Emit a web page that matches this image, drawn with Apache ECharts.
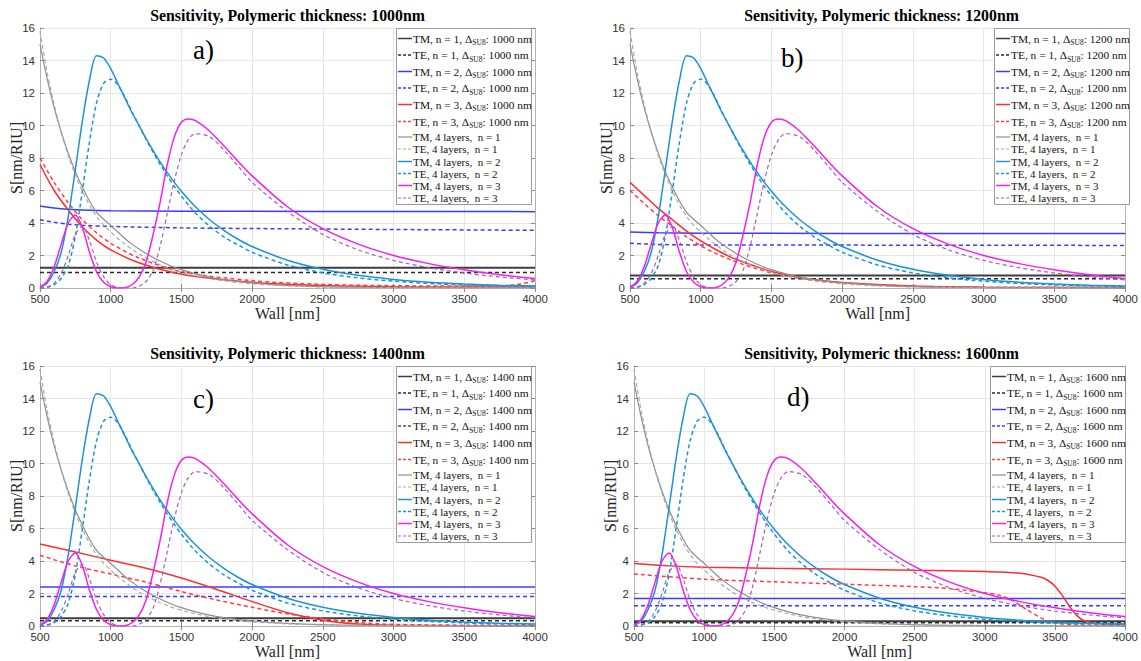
<!DOCTYPE html>
<html><head><meta charset="utf-8">
<script src="https://cdn.jsdelivr.net/npm/echarts@6/dist/echarts.min.js"></script>
<style>html,body{margin:0;padding:0;background:#fff}#c{width:1141px;height:661px}</style>
</head><body><div id="c"></div>
<script>
// ---------------- DATA ----------------
const panelTitles = ['Sensitivity, Polymeric thickness: 1000nm','Sensitivity, Polymeric thickness: 1200nm','Sensitivity, Polymeric thickness: 1400nm','Sensitivity, Polymeric thickness: 1600nm'];
const panelTags = ['a)','b)','c)','d)'];
const thickness = ['1000','1200','1400','1600'];
const legendMain = ['TM, n = 1, Δ','TE, n = 1, Δ','TM, n = 2, Δ','TE, n = 2, Δ','TM, n = 3, Δ','TE, n = 3, Δ',
  'TM, 4 layers,  n = 1','TE, 4 layers,  n = 1','TM, 4 layers,  n = 2','TE, 4 layers,  n = 2','TM, 4 layers,  n = 3','TE, 4 layers,  n = 3'];

// 4-layer reference curves (same in all panels)
const wall4L  = [500,550,600,650,700,750,800,850,900,950,1000,1050,1100,1150,1200,1250,1300,1350,1400,1450,1500,1550,1600,1700,1800,1900,2000,2250,2500,2750,3000,3250,3500,3750,4000];
const tm4L_n1 = [15.0,12.9,11.1,9.6,8.3,7.15,6.2,5.35,4.65,4.23,3.85,3.45,3.05,2.7,2.4,2.12,1.88,1.66,1.46,1.28,1.13,0.99,0.87,0.67,0.52,0.4,0.31,0.16,0.08,0.045,0.025,0.015,0.01,0.005,0.0];
const te4L_n1 = [15.8,13.3,11.3,9.6,8.15,6.95,5.95,5.1,4.4,3.85,3.45,3.05,2.7,2.38,2.1,1.85,1.63,1.43,1.26,1.1,0.97,0.85,0.75,0.57,0.44,0.34,0.26,0.13,0.065,0.035,0.02,0.01,0.01,0.0,0.0];
const tm4L_n2 = [0.05,0.3,1.0,2.2,4.4,7.3,10.3,12.8,14.3,14.15,13.5,12.6,11.7,10.8,10.0,9.2,8.45,7.75,7.1,6.5,5.95,5.45,5.0,4.2,3.55,3.0,2.55,1.71,1.15,0.78,0.53,0.36,0.25,0.17,0.12];
const te4L_n2 = [0.0,0.05,0.2,0.6,1.4,3.2,6.0,9.0,11.4,12.6,12.85,12.5,11.75,10.85,10.0,9.15,8.35,7.6,6.9,6.25,5.65,5.1,4.6,3.8,3.15,2.65,2.2,1.42,0.93,0.62,0.42,0.28,0.19,0.13,0.09];
const tm4L_n3 = [0.05,0.4,1.3,2.7,4.0,4.5,3.7,2.2,1.0,0.35,0.08,0.0,0.02,0.2,0.65,1.6,3.3,5.3,7.6,9.3,10.2,10.4,10.3,9.65,8.75,7.8,6.9,5.0,3.65,2.7,2.0,1.5,1.12,0.82,0.58];
const te4L_n3 = [0.0,0.05,0.3,0.9,2.0,3.3,3.8,2.9,1.6,0.7,0.2,0.04,0.0,0.0,0.1,0.4,1.1,2.6,4.6,6.6,8.2,9.15,9.5,9.3,8.5,7.5,6.5,4.7,3.3,2.35,1.7,1.25,0.92,0.68,0.5];

const wallFlat = [500, 4000];
// panel a (1000 nm)
const tmN1_a = [1.25,1.25], teN1_a = [0.95,0.95];
const wallN2_a = [500,600,700,800,1000,1500,2000,3000,4000];
const tmN2_a = [5.05,4.93,4.85,4.8,4.76,4.73,4.72,4.71,4.7];
const teN2_a = [4.2,4.05,3.93,3.86,3.79,3.7,3.66,3.6,3.55];
const wallN3_a = [500,600,700,800,900,1000,1200,1500,2000,2500,3000,3500,3800,3900,4000];
const tmN3_a = [7.6,6.0,4.8,3.75,2.95,2.35,1.55,0.85,0.35,0.15,0.08,0.06,0.06,0.06,0.07];
const teN3_a = [8.0,6.5,5.25,4.2,3.4,2.75,1.85,1.0,0.45,0.22,0.14,0.12,0.15,0.25,0.45];
// panel b (1200 nm)
const tmN1_b = [0.77,0.77], teN1_b = [0.57,0.57];
const wallN2_b = [500,700,1000,2000,4000];
const tmN2_b = [3.45,3.4,3.37,3.36,3.35];
const teN2_b = [2.75,2.68,2.65,2.64,2.62];
const wallN3_b = [500,600,700,800,900,1000,1100,1200,1300,1400,1500,1750,2000,2500,3000,3500,4000];
const tmN3_b = [6.5,5.7,4.9,4.2,3.5,2.9,2.4,1.95,1.6,1.3,1.02,0.58,0.34,0.12,0.05,0.03,0.02];
const teN3_b = [6.0,5.2,4.45,3.8,3.15,2.6,2.15,1.78,1.45,1.18,0.93,0.53,0.31,0.11,0.05,0.04,0.05];
// panel c (1400 nm)
const tmN1_c = [0.47,0.47], teN1_c = [0.33,0.33];
const tmN2_c = [2.4,2.4], teN2_c = [1.82,1.82];
const wallN3_c = [500,750,1000,1250,1500,1750,2000,2250,2500,2750,3000,3500,4000];
const tmN3_c = [5.05,4.55,4.05,3.55,2.95,2.25,1.5,0.82,0.36,0.12,0.05,0.02,0.01];
const teN3_c = [4.35,3.7,3.2,2.7,2.12,1.6,1.15,0.75,0.45,0.22,0.1,0.05,0.03];
// panel d (1600 nm)
const tmN1_d = [0.3,0.3], teN1_d = [0.2,0.2];
const tmN2_d = [1.7,1.7], teN2_d = [1.25,1.25];
const wallN3_d = [500,750,1000,1500,2000,2500,3000,3250,3400,3450,3500,3550,3600,3650,3700,3800,4000];
const tmN3_d = [3.85,3.7,3.62,3.55,3.5,3.43,3.35,3.25,3.0,2.8,2.45,1.9,1.25,0.7,0.35,0.15,0.1];
const wallN3e_d = [500,1000,1500,2000,2500,2750,3000,3100,3200,3300,3400,3500,3750,4000];
const teN3_d = [3.2,2.88,2.72,2.57,2.42,2.3,2.05,1.9,1.55,1.0,0.5,0.18,0.05,0.05];

// ---------------- LAYOUT / STYLE ----------------
const grids = [
  {left:40, top:28, width:495, height:260},
  {left:630, top:28, width:503, height:260},
  {left:40, top:366, width:495, height:260},
  {left:634, top:366, width:495, height:260}
];
const tagPos = [[193,50],[781,58],[193,399],[787,397]];
const styles = [
  {c:'#3d3d3d', w:2,   d:'solid'},
  {c:'#2b2b2b', w:1.5, d:[4,3]},
  {c:'#3b3bff', w:1.5, d:'solid'},
  {c:'#3b3bff', w:1.5, d:[4,3]},
  {c:'#ff2e2e', w:1.5, d:'solid'},
  {c:'#ff3d3d', w:1.5, d:[4,3]},
  {c:'#8e8e8e', w:1.2, d:'solid'},
  {c:'#a8a8a8', w:1.2, d:[4,3]},
  {c:'#1a94d4', w:1.5, d:'solid'},
  {c:'#1a94d4', w:1.5, d:[4,3]},
  {c:'#f41ff0', w:1.5, d:'solid'},
  {c:'#a461b6', w:1.2, d:[4,3]}
];
const zip = (xs, ys) => xs.map((x, i) => [x, ys[i]]);

const panelSeries = [
  [[wallFlat,tmN1_a],[wallFlat,teN1_a],[wallN2_a,tmN2_a],[wallN2_a,teN2_a],[wallN3_a,tmN3_a],[wallN3_a,teN3_a]],
  [[wallFlat,tmN1_b],[wallFlat,teN1_b],[wallN2_b,tmN2_b],[wallN2_b,teN2_b],[wallN3_b,tmN3_b],[wallN3_b,teN3_b]],
  [[wallFlat,tmN1_c],[wallFlat,teN1_c],[wallFlat,tmN2_c],[wallFlat,teN2_c],[wallN3_c,tmN3_c],[wallN3_c,teN3_c]],
  [[wallFlat,tmN1_d],[wallFlat,teN1_d],[wallFlat,tmN2_d],[wallFlat,teN2_d],[wallN3_d,tmN3_d],[wallN3e_d,teN3_d]]
];
const fourLayer = [[wall4L,tm4L_n1],[wall4L,te4L_n1],[wall4L,tm4L_n2],[wall4L,te4L_n2],[wall4L,tm4L_n3],[wall4L,te4L_n3]];

const SERIF = '"Liberation Serif","Times New Roman",serif';
const SANS = '"Liberation Sans",Arial,sans-serif';
const measCtx = document.createElement('canvas').getContext('2d');
function tw(text, size, weight) { measCtx.font = (weight||'normal') + ' ' + size + 'px "Liberation Serif"'; return measCtx.measureText(text).width; }

const xAxes = [], yAxes = [], series = [], graphic = [];
grids.forEach((g, p) => {
  const common = {gridIndex:p, type:'value', min:500, max:4000, interval:500};
  xAxes.push(Object.assign({}, common, {
    position:'bottom',
    name:'Wall [nm]', nameLocation:'middle', nameGap:17,
    nameTextStyle:{fontFamily:SERIF, fontSize:16, color:'#262626'},
    axisLine:{show:true, lineStyle:{color:'#b3b3b3', width:1}},
    axisTick:{show:true, inside:true, length:4, lineStyle:{color:'#8a8a8a'}},
    axisLabel:{show:true, margin:5, fontFamily:SANS, fontSize:11.5, color:'#333', formatter: v => String(v)},
    splitLine:{show:true, lineStyle:{color:'#e6e6e6', width:1}}
  }));
  yAxes.push({gridIndex:p, type:'value', min:0, max:16, interval:2, position:'left',
    name:'S[nm/RIU]', nameLocation:'middle', nameGap:16, nameRotate:90, nameMoveOverlap:false,
    nameTextStyle:{fontFamily:SERIF, fontSize:16, color:'#262626'},
    axisLine:{show:true, lineStyle:{color:'#b3b3b3', width:1}},
    axisTick:{show:true, inside:true, length:4, lineStyle:{color:'#8a8a8a'}},
    axisLabel:{show:true, margin:5, fontFamily:SANS, fontSize:11.5, color:'#333', formatter: v => String(v)},
    splitLine:{show:true, lineStyle:{color:'#e6e6e6', width:1}}
  });
});
// mirrored box axes (top / right) with inside ticks
grids.forEach((g, p) => {
  xAxes.push({gridIndex:p, type:'value', min:500, max:4000, interval:500, position:'top',
    axisLine:{show:true, lineStyle:{color:'#b3b3b3'}}, axisTick:{show:true, inside:true, length:4, lineStyle:{color:'#8a8a8a'}},
    axisLabel:{show:false}, splitLine:{show:false}});
  yAxes.push({gridIndex:p, type:'value', min:0, max:16, interval:2, position:'right',
    axisLine:{show:true, lineStyle:{color:'#b3b3b3'}}, axisTick:{show:true, inside:true, length:4, lineStyle:{color:'#8a8a8a'}},
    axisLabel:{show:false}, splitLine:{show:false}});
});

grids.forEach((g, p) => {
  const all = panelSeries[p].concat(fourLayer);
  all.forEach((pair, k) => {
    const st = styles[k];
    series.push({
      type:'line', name: panelTags[p] + ' ' + legendMain[k],
      xAxisIndex:p, yAxisIndex:p,
      data: zip(pair[0], pair[1]),
      showSymbol:false, symbol:'none', smooth: pair[0].length > 2 ? 0.3 : false,
      lineStyle:{color:st.c, width:st.w, type:st.d},
      animation:false, silent:true, z: 2 + k * 0.01
    });
  });

  // title
  graphic.push({type:'text', silent:true, style:{
    text: panelTitles[p], x: g.left + g.width/2, y: g.top - 13,
    font: 'bold 15.8px ' + SERIF, fill:'#000', align:'center', verticalAlign:'middle', textAlign:'center', textVerticalAlign:'middle'}});
  // panel tag
  graphic.push({type:'text', silent:true, z:50, style:{
    text: panelTags[p], x: tagPos[p][0], y: tagPos[p][1],
    font: '27px ' + SERIF, fill:'#000', align:'left', verticalAlign:'middle', textAlign:'left', textVerticalAlign:'middle'}});

  // legend
  const right = g.left + g.width;
  const bx = right - 139, by = g.top, bw = 135, bh = 176;
  graphic.push({type:'rect', silent:true, z:100, shape:{x:bx+0.5, y:by+0.5, width:bw, height:bh},
    style:{fill:'#fff', stroke:'#9a9a9a', lineWidth:1}});
  const rowY = [10.5,27,43.5,60,76.5,93.5,109,121,133.5,145.5,157.5,170];
  legendMain.forEach((lab, k) => {
    const st = styles[k];
    const y = by + rowY[k];
    graphic.push({type:'line', silent:true, z:101, shape:{x1:bx+2, y1:y, x2:bx+16, y2:y},
      style:{stroke:st.c, lineWidth:Math.min(st.w,1.5), lineDash: st.d === 'solid' ? null : [3,2]}});
    const tx = bx + 17;
    if (k < 6) {
      const fs = 11.4;
      graphic.push({type:'text', silent:true, z:101, style:{text:lab, x:tx, y:y, font: fs+'px '+SERIF, fill:'#111', align:'left', verticalAlign:'middle', textAlign:'left', textVerticalAlign:'middle'}});
      const w1 = tw(lab, fs);
      graphic.push({type:'text', silent:true, z:101, style:{text:'SU8', x:tx+w1, y:y+4, font: '7.5px '+SERIF, fill:'#111', align:'left', verticalAlign:'middle', textAlign:'left', textVerticalAlign:'middle'}});
      const w2 = tw('SU8', 7.5);
      graphic.push({type:'text', silent:true, z:101, style:{text:': ' + thickness[p] + ' nm', x:tx+w1+w2, y:y, font: fs+'px '+SERIF, fill:'#111', align:'left', verticalAlign:'middle', textAlign:'left', textVerticalAlign:'middle'}});
    } else {
      graphic.push({type:'text', silent:true, z:101, style:{text:lab.replace('  ', ' \u00a0'), x:tx, y:y, font: '11px '+SERIF, fill:'#111', align:'left', verticalAlign:'middle', textAlign:'left', textVerticalAlign:'middle'}});
    }
  });
});

const chart = echarts.init(document.getElementById('c'), null, {renderer:'svg', width:1141, height:661});
chart.setOption({
  animation:false,
  backgroundColor:'#fff',
  grid: grids.map(g => Object.assign({show:false, containLabel:false}, g)),
  xAxis: xAxes, yAxis: yAxes, series: series, graphic: graphic
});
</script></body></html>
